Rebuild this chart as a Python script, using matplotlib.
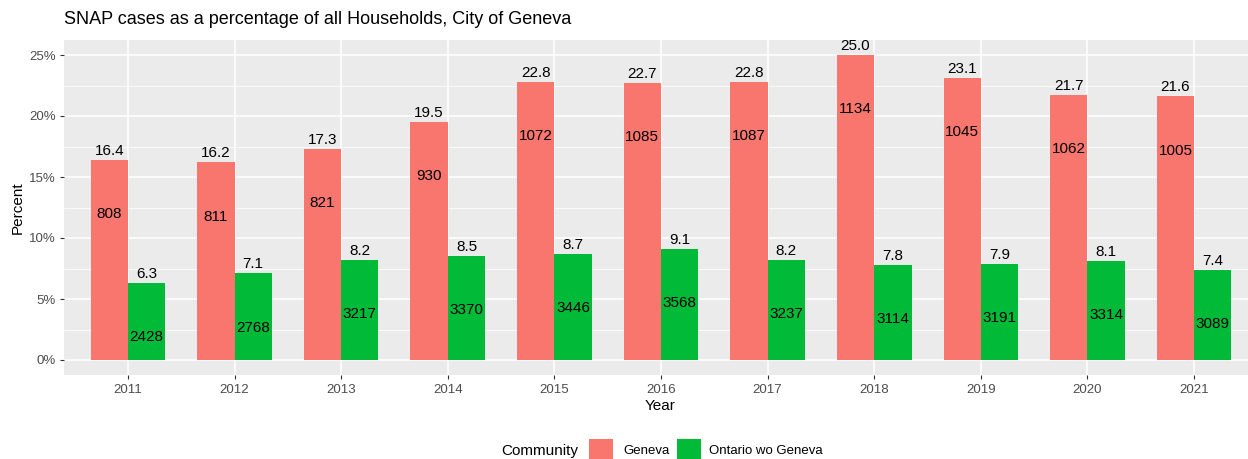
import matplotlib
matplotlib.use("Agg")
import matplotlib.pyplot as plt
import matplotlib.ticker as mticker
from matplotlib.patches import Rectangle
import numpy as np

years = ["2011", "2012", "2013", "2014", "2015", "2016", "2017", "2018", "2019", "2020", "2021"]
geneva_pct = [16.4, 16.2, 17.3, 19.5, 22.8, 22.7, 22.8, 25.0, 23.1, 21.7, 21.6]
ontario_pct = [6.3, 7.1, 8.2, 8.5, 8.7, 9.1, 8.2, 7.8, 7.9, 8.1, 7.4]
geneva_cases = [808, 811, 821, 930, 1072, 1085, 1087, 1134, 1045, 1062, 1005]
ontario_cases = [2428, 2768, 3217, 3370, 3446, 3568, 3237, 3114, 3191, 3314, 3089]
series_names = ["Geneva", "Ontario wo Geneva"]
colors = ["#F8766D", "#00BA38"]

plt.rcParams['font.family'] = ['Liberation Sans', 'DejaVu Sans']

W, H = 1248, 459
fig = plt.figure(figsize=(W / 100, H / 100), dpi=100)
top_px, bot_px = 39.75, 375.25
left_px, right_px = 64, 1258
ax = fig.add_axes([left_px / W, 1 - bot_px / H, (right_px - left_px) / W, (bot_px - top_px) / H])
ax.set_facecolor("#EBEBEB")

x = np.arange(1, len(years) + 1)
w = 0.35
for i, (pct, cases) in enumerate([(geneva_pct, geneva_cases), (ontario_pct, ontario_cases)]):
    xs = x + (i - 0.5) * w
    ax.bar(xs, pct, width=w, color=colors[i], zorder=2)
    for xi, p, c in zip(xs, pct, cases):
        t = ax.annotate(f"{p:.1f}", (xi, p), xytext=(0, 1.5), textcoords="offset points",
                        ha="center", va="bottom", fontsize=11, color="black",
                        annotation_clip=False, zorder=3)
        t.set_clip_on(True)
        t.set_clip_box(ax.bbox)
        ax.annotate(f"{c}", (xi, p), xytext=(0, -39), textcoords="offset points",
                    ha="center", va="center", fontsize=11, color="black", zorder=3)

ax.set_xlim(0.4, len(years) + 0.6)
ax.set_ylim(-1.25, 26.25)
ax.set_xticks(x)
ax.set_xticklabels(years)
ax.set_yticks([0, 5, 10, 15, 20, 25])
ax.yaxis.set_major_formatter(mticker.FuncFormatter(lambda v, p: f"{v:.0f}%"))
ax.set_yticks([2.5, 7.5, 12.5, 17.5, 22.5], minor=True)
ax.grid(which="major", color="white", linewidth=1.1, zorder=0)
ax.grid(which="minor", axis="y", color="white", linewidth=0.55, zorder=0)
ax.set_axisbelow(True)
for s in ax.spines.values():
    s.set_visible(False)
ax.tick_params(axis="both", which="major", colors="#333333", labelcolor="#4D4D4D",
               labelsize=9.5, length=3, width=0.8)
ax.tick_params(axis="both", which="minor", length=0)
ax.tick_params(axis="x", pad=3)
ax.tick_params(axis="y", pad=3)
ax.set_xlabel("Year", fontsize=11, labelpad=3)
ax.xaxis.set_label_coords((660 - left_px) / (right_px - left_px), -0.072)
ax.xaxis.label.set_va("top")
ax.set_ylabel("Percent", fontsize=11, labelpad=3)

fig.text(left_px / W, 1 - 20 / H, "SNAP cases as a percentage of all Households, City of Geneva",
         fontsize=13, va="center", ha="left")

# legend (ggplot-style, bottom, horizontal)
ly = 1 - 451 / H
fig.text(501 / W, ly, "Community", fontsize=11, ha="left", va="center")
key_x = [589, 677]
text_x = [623, 709]
for kx, tx, c, name in zip(key_x, text_x, colors, series_names):
    fig.add_artist(Rectangle((kx / W, 1 - 461 / H), 24 / W, 22 / H,
                             transform=fig.transFigure, facecolor=c, edgecolor="none"))
    fig.text(tx / W, ly, name, fontsize=9.5, ha="left", va="center", color="black")

fig.savefig("out.png", dpi=100)
